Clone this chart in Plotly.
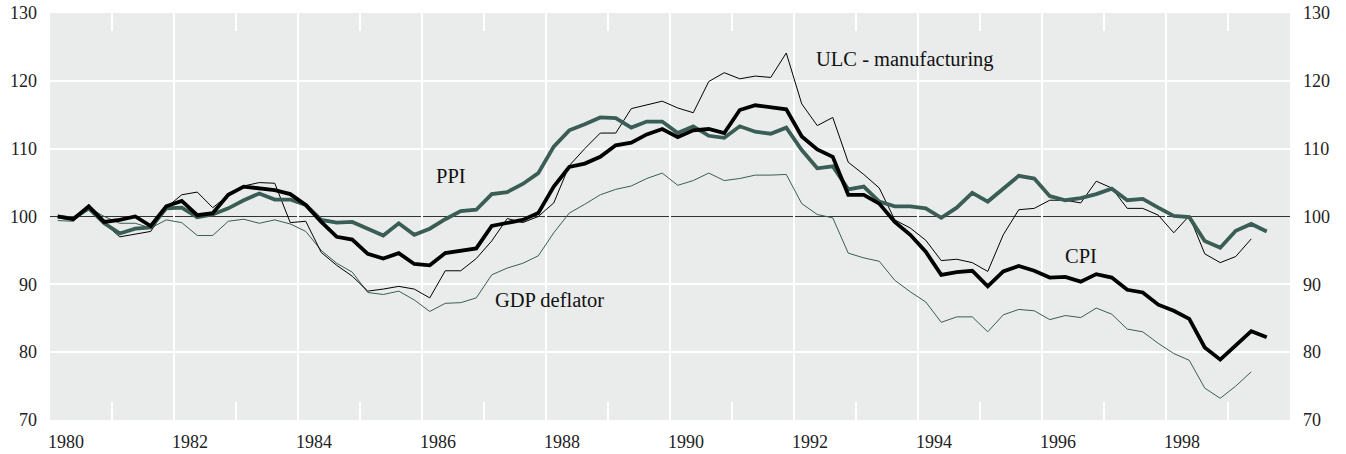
import plotly.graph_objects as go

# Quarterly index values, 1980Q1 = first observation
START_YEAR = 1980
cpi = [100.0, 99.6, 101.5, 99.2, 99.5, 100.0, 98.6, 101.5, 102.3, 100.2, 100.5, 103.2,
       104.4, 104.2, 103.9, 103.3, 101.7, 99.2, 97.0, 96.6, 94.5, 93.8, 94.6, 93.0,
       92.8, 94.6, 95.0, 95.3, 98.6, 99.1, 99.5, 100.5, 104.4, 107.3, 107.8, 108.8,
       110.5, 110.9, 112.1, 112.9, 111.7, 112.7, 112.9, 112.3, 115.7, 116.4, 116.1, 115.8,
       111.8, 109.9, 108.8, 103.2, 103.2, 101.9, 99.2, 97.3, 94.8, 91.4, 91.8, 92.0,
       89.7, 91.9, 92.7, 92.0, 91.0, 91.1, 90.4, 91.5, 91.0, 89.2, 88.8, 87.0,
       86.1, 84.9, 80.7, 78.9, 81.0, 83.1, 82.2]
ppi = [100.0, 99.7, 101.2, 99.0, 97.5, 98.2, 98.4, 101.2, 101.3, 99.9, 100.3, 101.2,
       102.4, 103.4, 102.5, 102.5, 101.7, 99.5, 99.1, 99.2, 98.2, 97.2, 99.0, 97.3,
       98.2, 99.6, 100.8, 101.0, 103.3, 103.6, 104.8, 106.4, 110.3, 112.7, 113.6, 114.6,
       114.5, 113.1, 114.0, 114.0, 112.3, 113.3, 111.9, 111.6, 113.3, 112.5, 112.2, 113.1,
       109.8, 107.1, 107.4, 104.0, 104.4, 102.2, 101.5, 101.5, 101.2, 99.8, 101.3, 103.5,
       102.2, 104.1, 106.0, 105.6, 103.0, 102.4, 102.7, 103.3, 104.1, 102.4, 102.6, 101.3,
       100.1, 99.9, 96.4, 95.4, 97.9, 98.9, 97.8]
ulc = [100.2, 99.6, 101.7, 99.0, 97.0, 97.4, 97.8, 101.3, 103.2, 103.6, 101.3, 103.1,
       104.5, 105.0, 104.9, 99.1, 99.3, 94.7, 92.8, 91.2, 89.0, 89.3, 89.7, 89.3,
       88.0, 92.0, 92.0, 93.8, 96.4, 99.7, 99.1, 100.0, 102.0, 107.5, 110.0, 112.3,
       112.3, 115.9, 116.5, 117.0, 116.0, 115.3, 119.9, 121.2, 120.3, 120.7, 120.5, 124.1,
       116.6, 113.4, 114.6, 108.0, 106.2, 104.2, 99.5, 98.3, 96.5, 93.5, 93.7, 93.2,
       91.9, 97.3, 101.0, 101.2, 102.4, 102.4, 102.0, 105.2, 104.2, 101.2, 101.2, 100.2,
       97.6, 100.1, 94.5, 93.2, 94.1, 96.7]
gdp_deflator = [99.4, 99.3, 101.3, 100.0, 99.0, 99.0, 98.3, 99.5, 99.1, 97.2, 97.2, 99.3,
                99.6, 99.0, 99.5, 98.9, 97.8, 95.0, 93.1, 91.8, 88.8, 88.5, 89.0, 87.7,
                86.0, 87.2, 87.3, 88.0, 91.4, 92.4, 93.1, 94.2, 97.6, 100.5, 101.8, 103.2,
                104.0, 104.5, 105.6, 106.4, 104.6, 105.3, 106.4, 105.3, 105.6, 106.1, 106.1, 106.2,
                101.9, 100.3, 99.8, 94.6, 93.9, 93.4, 90.6, 88.9, 87.4, 84.4, 85.2, 85.2,
                83.0, 85.5, 86.3, 86.1, 84.8, 85.4, 85.1, 86.5, 85.6, 83.4, 83.0, 81.3,
                79.8, 78.8, 74.7, 73.2, 75.0, 77.1]

all_years = list(range(1980, 2000))
year_labels = [str(y) if y % 2 == 0 else "" for y in all_years]
grid_years = [1982, 1984, 1986, 1988, 1990, 1992, 1994, 1996, 1998]
y_ticks = [70, 80, 90, 100, 110, 120, 130]
y_grid = [80, 90, 110, 120]
BASE_INDEX = 100

series_labels = {
    "PPI": (1986.2, 106.0),
    "ULC - manufacturing": (1992.33, 123.1),
    "GDP deflator": (1987.15, 87.7),
    "CPI": (1996.34, 94.2),
}


def quarter_time(n):
    return [START_YEAR + (i + 0.5) / 4 for i in range(n)]


GREEN = "#3a5d55"
FONT = "Liberation Serif"

fig = go.Figure()
fig.add_trace(go.Scatter(x=quarter_time(len(gdp_deflator)), y=gdp_deflator, mode="lines",
                         line=dict(color=GREEN, width=1), name="GDP deflator"))
fig.add_trace(go.Scatter(x=quarter_time(len(ulc)), y=ulc, mode="lines",
                         line=dict(color="#000000", width=1), name="ULC - manufacturing"))
fig.add_trace(go.Scatter(x=quarter_time(len(ppi)), y=ppi, mode="lines",
                         line=dict(color=GREEN, width=3.8), name="PPI"))
fig.add_trace(go.Scatter(x=quarter_time(len(cpi)), y=cpi, mode="lines",
                         line=dict(color="#000000", width=3.8), name="CPI", yaxis="y2"))

fig.add_shape(type="line", xref="paper", x0=0, x1=1, yref="y", y0=BASE_INDEX, y1=BASE_INDEX,
              line=dict(color="#333333", width=1), layer="below")

for text, (ax, ay) in series_labels.items():
    fig.add_annotation(x=ax, y=ay, xref="x", yref="y", text=text, showarrow=False,
                       xanchor="left", yanchor="middle",
                       font=dict(family=FONT, size=20.5, color="#111111"))

tickfont = dict(family=FONT, size=18, color="#222222")
fig.update_layout(
    width=1346, height=454,
    margin=dict(l=50, r=56, t=13, b=34, autoexpand=False),
    paper_bgcolor="white", plot_bgcolor="#e9ecea",
    showlegend=False,
    xaxis=dict(range=[1980, 2000], tickvals=all_years, ticktext=year_labels,
               showgrid=False, zeroline=False,
               ticks="inside", ticklen=18, tickcolor="white", tickwidth=2,
               mirror="ticks", showline=False,
               ticklabelshift=16, ticklabelstandoff=9, tickfont=tickfont,
               minor=dict(tickvals=grid_years, showgrid=True, gridcolor="white",
                          gridwidth=2, ticks="")),
    yaxis=dict(range=[70, 130], tickvals=y_ticks, showgrid=False, zeroline=False,
               ticks="", ticklabelstandoff=12, tickfont=tickfont,
               minor=dict(tickvals=y_grid, showgrid=True, gridcolor="white",
                          gridwidth=2, ticks="")),
    yaxis2=dict(range=[70, 130], tickvals=y_ticks, overlaying="y", side="right",
                showgrid=False, zeroline=False, ticks="", ticklabelstandoff=12,
                tickfont=tickfont, anchor="x"),
)

fig.write_html(
    "out.html",
    config={"displayModeBar": False},
    post_script="document.body.style.margin='0';document.body.style.overflow='hidden';",
)
